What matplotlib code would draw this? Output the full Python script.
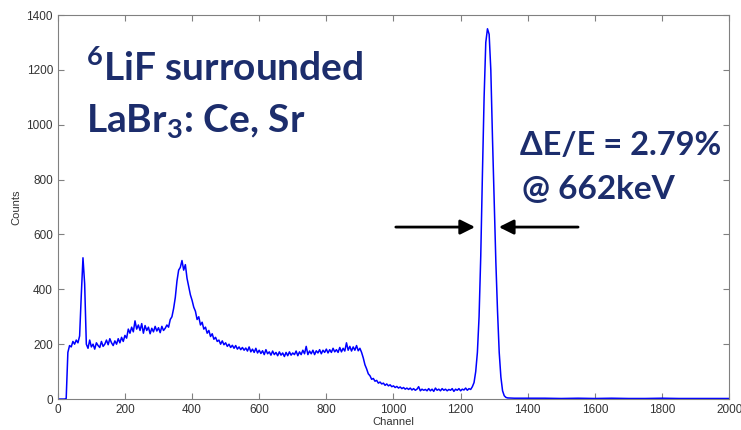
import matplotlib
matplotlib.use("Agg")
import matplotlib.pyplot as plt

# spectrum (channel, counts)
channels_low = list(range(0, 1345, 5))
counts_low = [
    0, 0, 0, 0, 0, 2, 170, 195, 190, 210, 200, 215, 205, 230, 380, 515, 420, 200, 185, 215,
    190, 200, 182, 205, 195, 188, 210, 192, 200, 215, 198, 220, 205, 195, 212, 200, 220, 205, 225, 210,
    232, 222, 255, 240, 262, 245, 285, 255, 270, 250, 275, 240, 268, 250, 262, 238, 258, 245, 265, 248,
    260, 242, 265, 250, 258, 270, 262, 290, 300, 330, 370, 430, 470, 480, 505, 470, 490, 440, 410, 380,
    360, 335, 320, 290, 300, 270, 280, 255, 262, 240, 250, 228, 238, 218, 225, 210, 215, 200, 212, 198,
    205, 192, 200, 188, 196, 185, 195, 182, 190, 180, 188, 178, 186, 175, 190, 172, 182, 170, 185, 168,
    178, 166, 176, 162, 180, 165, 172, 160, 175, 162, 170, 158, 172, 160, 168, 155, 170, 158, 172, 160,
    168, 162, 175, 158, 172, 162, 178, 165, 192, 162, 175, 165, 178, 162, 176, 168, 180, 165, 178, 170,
    182, 168, 180, 170, 185, 172, 180, 170, 188, 172, 185, 175, 205, 178, 192, 175, 190, 178, 195, 176,
    185, 170, 150, 125, 110, 92, 85, 72, 75, 65, 68, 58, 62, 55, 58, 50, 55, 48, 52, 45,
    48, 42, 46, 40, 44, 38, 42, 36, 40, 35, 40, 33, 38, 32, 36, 45, 30, 36, 32, 35,
    30, 38, 30, 36, 28, 40, 32, 36, 30, 38, 32, 36, 30, 35, 32, 38, 28, 36, 32, 38,
    30, 36, 33, 40, 32, 38, 35, 45, 60, 100, 170, 300, 520, 820, 1100, 1300, 1350, 1330, 1200, 950,
    720, 500, 320, 170, 80, 30, 12, 6, 4,
]
channels_high = [1360, 1400, 1450, 1500, 1550, 1600, 1650, 1700, 1750, 1800, 1850, 1900, 1950, 2000]
counts_high = [3, 3, 3, 2, 3, 2, 3, 2, 2, 3, 2, 2, 2, 2]

channels = channels_low + channels_high
counts = counts_low + counts_high

x_ticks = [0, 200, 400, 600, 800, 1000, 1200, 1400, 1600, 1800, 2000]
y_ticks = [0, 200, 400, 600, 800, 1000, 1200, 1400]

navy = "#1c2d6c"
plt.rcParams["mathtext.fontset"] = "custom"
plt.rcParams["mathtext.rm"] = "Lato:bold"
plt.rcParams["mathtext.bf"] = "Lato:bold"

fig = plt.figure(figsize=(7.41, 4.30), dpi=100)
ax = fig.add_axes([0.078, 0.072, 0.906, 0.893])

ax.plot(channels, counts, color="#0000ff", linewidth=1.1)

ax.set_xlim(0, 2000)
ax.set_ylim(0, 1400)
ax.set_xticks(x_ticks)
ax.set_yticks(y_ticks)
ax.tick_params(direction="in", top=True, right=True, length=4, width=0.8,
               colors="#808080", labelcolor="#333333", labelsize=8.5)
for lbl in ax.get_xticklabels() + ax.get_yticklabels():
    lbl.set_family("Liberation Sans")
for s in ax.spines.values():
    s.set_color("#808080")
    s.set_linewidth(0.8)

ax.set_xlabel("Channel", fontsize=8, family="Liberation Sans", color="#333333", labelpad=1)
ax.set_ylabel("Counts", fontsize=8, family="Liberation Sans", color="#333333", labelpad=4)

# annotation text
ax.text(84, 1160, "$^{6}$LiF surrounded", fontsize=28, fontweight="bold",
        family="Lato", color=navy, va="baseline")
ax.text(84, 972, "LaBr$_{3}$: Ce, Sr", fontsize=28, fontweight="bold",
        family="Lato", color=navy, va="baseline")
ax.text(1377, 890, "ΔE/E = 2.79%", fontsize=23.5, fontweight="bold",
        family="Lato", color=navy, va="baseline")
ax.text(1383, 729, "@ 662keV", fontsize=24, fontweight="bold",
        family="Lato", color=navy, va="baseline")

# FWHM arrows
ax.annotate("", xy=(1243, 627), xytext=(1007, 627),
            arrowprops=dict(arrowstyle="-|>", color="black", lw=2, mutation_scale=22,
                            shrinkA=0, shrinkB=0))
ax.annotate("", xy=(1314, 627), xytext=(1550, 627),
            arrowprops=dict(arrowstyle="-|>", color="black", lw=2, mutation_scale=22,
                            shrinkA=0, shrinkB=0))

fig.savefig("out.png", dpi=100)
